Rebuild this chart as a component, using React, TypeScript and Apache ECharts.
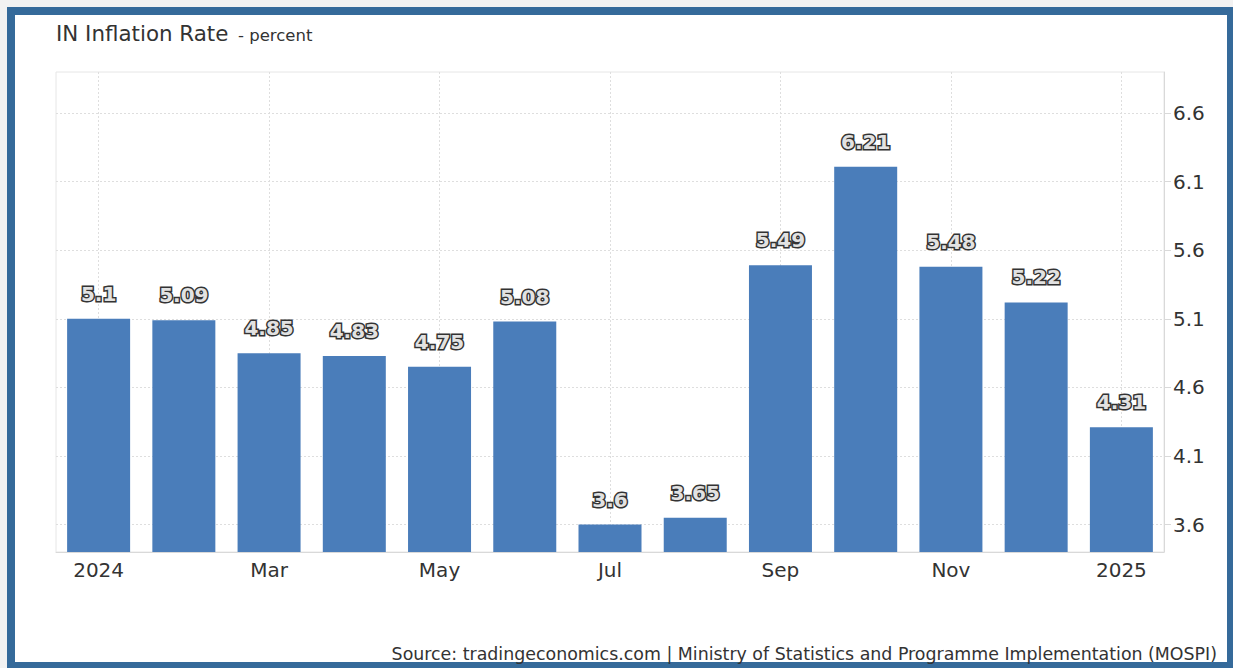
import React, { useEffect, useRef } from "react";
import * as echarts from "echarts";

const categories = ["2024", "Feb", "Mar", "Apr", "May", "Jun", "Jul", "Aug", "Sep", "Oct", "Nov", "Dec", "2025"];
const inflation = [5.1, 5.09, 4.85, 4.83, 4.75, 5.08, 3.6, 3.65, 5.49, 6.21, 5.48, 5.22, 4.31];
const yTicks = [3.6, 4.1, 4.6, 5.1, 5.6, 6.1, 6.6];
const titleMain = "IN Inflation Rate";
const titleUnit = "- percent";
const sourceText = "Source: tradingeconomics.com | Ministry of Statistics and Programme Implementation (MOSPI)";

export default function App() {
  const ref = useRef<HTMLDivElement>(null);

  useEffect(() => {
    if (!ref.current) return;
    const chart = echarts.init(ref.current, undefined, { renderer: "svg" });
    const font = "DejaVu Sans";
    chart.setOption({
      animation: false,
      backgroundColor: "transparent",
      grid: {
        left: 56,
        right: 69,
        top: 72,
        bottom: 116,
        show: true,
        borderColor: "#e6e6e6",
        borderWidth: 1,
      },
      xAxis: {
        type: "category",
        data: categories,
        boundaryGap: true,
        axisLine: { show: true, lineStyle: { color: "#d9d9d9", width: 1 } },
        axisTick: { show: false },
        axisLabel: {
          interval: 1,
          color: "#333",
          fontSize: 20,
          fontFamily: font,
          margin: 8,
        },
        splitLine: {
          show: true,
          interval: 1,
          alignWithLabel: true,
          lineStyle: { color: "#dedede", type: [2, 2], width: 1 },
        },
      },
      yAxis: {
        type: "value",
        position: "right",
        min: 3.4,
        max: 6.9,
        axisLine: { show: true, lineStyle: { color: "#d9d9d9", width: 1 } },
        axisTick: {
          show: true,
          length: 7,
          customValues: yTicks,
          lineStyle: { color: "#d9d9d9" },
        },
        axisLabel: {
          customValues: yTicks,
          formatter: (v: number) => v.toFixed(1),
          color: "#333",
          fontSize: 20,
          fontFamily: font,
          margin: 9,
        },
        splitLine: {
          show: true,
          lineStyle: { color: "#dedede", type: [2, 2], width: 1 },
        },
      },
      series: [
        {
          type: "bar",
          data: inflation,
          barWidth: 63,
          itemStyle: { color: "#4a7dba" },
          label: {
            show: true,
            position: "top",
            distance: 15,
            formatter: (p: any) => String(p.value),
            fontFamily: font,
            fontWeight: "bold",
            fontSize: 20,
            color: "#e2e2e2",
            textBorderColor: "#333",
            textBorderWidth: 3,
          },
        },
      ],
      graphic: [
        {
          type: "text",
          x: 56,
          y: 33,
          style: {
            text: titleMain,
            font: `21.4px "${font}"`,
            fill: "#333",
            verticalAlign: "middle",
          },
        },
        {
          type: "text",
          x: 238,
          y: 35,
          style: {
            text: titleUnit,
            font: `16.5px "${font}"`,
            fill: "#333",
            verticalAlign: "middle",
          },
        },
        {
          type: "text",
          x: 1217,
          y: 653.5,
          style: {
            text: sourceText,
            font: `17.4px "${font}"`,
            fill: "#333",
            align: "right",
            verticalAlign: "middle",
          },
        },
      ],
    });
    return () => chart.dispose();
  }, []);

  return (
    <div
      style={{
        position: "fixed",
        left: 0,
        top: 0,
        width: 1233,
        height: 668,
        overflow: "hidden",
        background: "#f2f2f2",
      }}
    >
      <div
        style={{
          position: "absolute",
          left: 7,
          top: 7,
          width: 1228,
          height: 663,
          boxSizing: "border-box",
          border: "8px solid #356a9a",
          background: "#ffffff",
        }}
      />
      <div
        ref={ref}
        style={{ position: "absolute", left: 0, top: 0, width: 1233, height: 668 }}
      />
    </div>
  );
}
